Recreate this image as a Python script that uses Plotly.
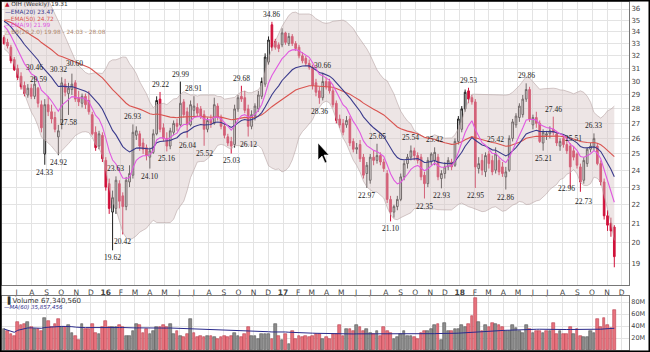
import plotly.graph_objects as go
import pandas as pd
import numpy as np

start_date = "2015-06-05"

ohlc = [
(33.5,33.7,32.9,33.0),(33.1,33.4,32.6,32.8),(32.7,32.9,31.4,31.6),(31.7,31.9,30.8,30.9),(31.0,31.3,30.1,30.3),
(30.4,30.7,29.4,29.6),(29.7,30.0,28.9,29.1),(29.0,29.8,28.8,29.5),(29.5,29.8,28.7,28.9),(28.9,30.46,28.7,29.8),
(29.5,29.59,28.1,28.4),(28.3,28.6,26.4,26.7),(25.0,28.7,24.33,28.3),(28.3,28.9,27.5,27.8),(27.8,28.3,27.0,27.3),
(27.4,27.8,26.4,26.6),(26.1,26.9,24.92,26.5),(27.0,30.32,26.6,29.9),(29.8,30.2,28.9,29.2),(29.1,29.9,27.58,29.5),
(29.4,30.60,29.0,29.8),(29.9,30.1,28.5,28.7),(28.8,29.3,28.2,28.5),(28.4,29.1,28.1,28.9),(28.9,29.1,28.0,28.3),
(28.6,29.3,27.6,27.8),(27.6,27.8,26.2,26.3),(26.4,26.8,25.2,25.4),(25.5,26.5,25.3,26.3),(26.2,26.4,24.5,24.7),
(24.6,24.8,22.8,23.0),(23.2,23.5,21.5,21.8),(21.6,22.8,19.62,22.4),(21.8,23.63,21.5,23.4),(23.2,23.4,21.8,22.2),
(22.5,22.7,20.42,21.9),(21.9,23.6,21.7,23.4),(23.3,24.3,23.0,23.8),(23.7,26.93,23.5,26.4),(26.2,26.8,25.9,26.5),
(26.3,26.5,25.2,25.5),(25.7,26.0,25.0,25.3),(25.4,25.6,24.6,24.9),(24.8,25.4,24.10,25.2),(25.1,26.6,25.0,26.3),
(26.3,28.9,26.2,28.6),(28.7,29.22,26.4,26.6),(26.7,27.0,25.8,26.0),(26.0,26.4,25.16,25.5),(25.5,26.7,25.3,26.5),
(26.4,27.2,26.2,27.0),(27.0,27.3,26.5,26.8),(26.9,29.99,26.8,28.4),(28.5,28.7,27.4,27.6),(27.8,28.1,26.04,26.9),
(26.9,28.6,26.8,28.3),(27.9,28.91,27.5,28.2),(28.1,28.4,27.5,27.7),(28.0,28.2,27.3,27.5),(27.6,27.9,25.52,26.6),
(26.6,27.4,26.4,27.2),(27.2,27.6,26.7,27.0),(27.0,28.8,26.9,28.3),(28.2,28.4,27.2,27.4),(27.4,27.6,26.6,26.8),
(26.8,27.0,26.0,26.2),(26.1,26.3,25.5,25.7),(25.8,26.1,25.03,25.5),(25.6,28.3,25.4,28.0),(28.0,29.0,27.8,28.8),
(28.9,29.68,28.5,28.7),(28.8,29.3,27.7,27.9),(28.0,28.3,26.12,26.8),(26.8,27.9,26.6,27.6),(27.5,28.4,27.2,28.2),
(28.0,29.3,27.8,29.0),(28.9,30.3,28.7,30.0),(29.8,32.2,29.6,31.9),(31.5,33.6,31.3,33.3),(34.6,34.86,32.4,32.7),
(33.2,33.4,32.5,32.7),(32.9,33.1,32.3,32.6),(32.9,34.3,32.7,33.9),(33.9,34.0,32.9,33.1),(33.0,33.9,32.8,33.6),
(33.6,33.8,32.8,33.0),(33.0,33.2,32.4,32.6),(32.7,32.9,31.8,32.0),(32.0,32.3,31.4,31.6),(31.8,32.0,31.2,31.4),
(31.4,31.7,30.9,31.1),(31.1,31.3,29.4,29.7),(29.9,30.2,28.9,29.2),(29.3,29.6,28.36,28.8),(28.8,30.66,28.6,30.0),
(30.0,30.3,29.4,29.6),(30.0,30.2,29.1,29.3),(29.3,29.5,28.1,28.3),(28.4,28.6,27.0,27.2),(27.3,27.6,26.7,26.9),
(27.0,27.3,26.2,26.4),(26.9,27.5,26.7,27.2),(27.3,27.5,25.5,25.7),(25.8,26.0,25.1,25.3),(25.3,25.7,25.0,25.4),
(25.6,25.9,24.5,24.7),(24.8,25.0,23.5,23.7),(23.8,24.5,22.97,24.3),(23.4,25.0,23.2,24.8),(24.8,25.2,24.3,24.6),
(24.6,25.65,24.4,24.9),(24.9,25.1,24.3,24.5),(24.5,24.7,23.9,24.1),(23.8,24.0,22.1,22.3),(22.3,22.5,21.10,21.6),
(21.6,22.0,21.3,21.9),(21.9,22.5,21.7,22.3),(22.3,23.8,22.2,23.6),(23.6,24.6,23.4,24.4),(24.4,25.0,24.1,24.8),
(24.8,25.54,24.6,25.2),(25.2,25.4,24.6,24.9),(24.9,25.1,24.4,24.6),(24.8,25.0,23.4,23.6),(23.7,23.9,22.35,23.2),
(23.2,24.8,23.0,24.6),(24.5,25.1,24.3,25.0),(24.6,25.42,24.3,25.1),(24.8,25.0,23.4,23.6),(23.5,24.0,22.93,23.8),
(23.8,24.5,23.5,24.2),(24.2,24.8,24.0,24.6),(24.5,24.7,24.0,24.2),(24.3,26.0,24.2,25.8),(25.8,27.5,25.6,27.3),
(26.6,28.2,26.4,28.0),(28.0,29.4,27.8,29.2),(29.3,29.53,28.4,28.7),(28.8,29.0,28.3,28.5),(28.5,28.7,22.95,24.2),
(24.1,24.8,23.8,24.4),(24.6,25.0,23.7,24.0),(23.9,25.1,23.6,24.9),(25.0,25.2,24.1,24.4),(24.6,24.9,23.7,23.9),
(24.0,25.42,23.8,25.0),(24.6,24.8,23.7,23.9),(24.2,24.5,23.6,23.8),(23.6,24.2,22.86,23.9),(24.0,26.2,23.9,26.0),
(26.0,27.3,25.8,27.1),(26.9,27.7,26.7,27.5),(27.4,28.4,27.1,28.2),(27.6,29.0,27.4,28.7),(28.7,29.86,28.5,29.4),
(29.4,29.6,27.1,27.3),(26.9,27.6,26.6,27.4),(27.4,27.8,26.7,27.0),(27.0,27.2,25.7,25.8),(25.7,26.6,25.21,26.4),
(26.2,26.5,25.9,26.3),(26.3,26.8,26.0,26.5),(26.6,27.46,26.2,26.4),(26.3,26.5,25.5,25.7),(25.5,26.0,25.2,25.8),
(26.0,26.2,25.4,25.6),(25.6,25.9,25.0,25.2),(25.5,25.7,22.96,24.2),(25.2,25.51,24.6,24.8),(25.0,25.1,24.1,24.3),
(24.2,24.4,22.73,23.3),(23.4,24.8,23.2,24.6),(24.4,25.4,24.2,25.3),(25.3,25.7,25.1,25.5),(25.4,26.33,25.2,26.0),
(25.5,25.7,24.3,24.4),(24.4,24.6,23.1,23.3),(23.3,23.5,21.2,21.4),(21.4,21.7,20.6,20.9),(21.0,21.3,20.3,20.6),
(20.8,20.9,18.8,19.31),
]
opens = [r[0] for r in ohlc]
highs = [r[1] for r in ohlc]
lows = [r[2] for r in ohlc]
closes = [r[3] for r in ohlc]

volumes_m = [
35,32,27,24,46,41,43,46,38,35,35,32,54,49,38,43,52,38,38,41,
29,24,16,43,35,35,43,29,27,38,49,38,38,38,41,38,24,24,32,43,
41,29,35,27,32,38,38,41,38,43,27,32,24,21,27,51,29,21,24,21,
24,24,21,18,21,24,21,24,29,24,21,27,38,24,24,18,27,27,27,18,
43,24,16,27,10,32,18,24,21,24,21,24,27,27,18,
21,18,27,27,42,24,35,35,32,42,38,32,35,29,27,32,24,38,32,29,
18,21,27,32,24,24,21,18,29,32,32,35,41,43,16,45,32,32,35,35,
41,38,43,57,86,46,32,41,38,45,43,41,38,32,32,41,36,32,29,41,
35,29,32,32,29,32,31,45,27,32,27,27,38,27,35,24,21,21,32,29,
52,38,54,42,36,67.34,
]

prior_closes = [35.0,34.2,33.0,34.5,35.8,36.2,35.5,34.8,33.9,34.6,
                35.9,36.8,37.4,36.9,36.2,35.6,35.0,34.4,34.0,33.6]

labels = [
(9,30.46,1),(10,29.59,1),(12,24.33,0),(16,24.92,0),(17,30.32,1),(19,27.58,0),(20,30.60,1),
(33,23.63,1),(32,19.62,0),(35,20.42,0),(38,26.93,1),(43,24.10,0),(46,29.22,1),(48,25.16,0),
(52,29.99,1),(54,26.04,0),(56,28.91,1),(59,25.52,0),(67,25.03,0),(70,29.68,1),(72,26.12,0),
(79,34.86,1),(94,30.66,1),(93,28.36,0),(110,25.65,1),(107,22.97,0),(114,21.10,0),(120,25.54,1),
(124,22.35,0),(127,25.42,1),(129,22.93,0),(137,29.53,1),(139,22.95,0),(145,25.42,1),(148,22.86,0),
(154,29.86,1),(162,27.46,1),(159,25.21,0),(168,25.51,1),(167,22.96,0),(170,22.73,0),(174,26.33,1),
]
# pixel nudges for crowded labels (value -> (dx, dy))
label_nudge = {30.32: (-3, 0), 30.60: (3, 3), 22.96: (-4, 7), 22.73: (3, -2)}

month_letters = ["J","F","M","A","M","J","J","A","S","O","N","D"]
price_ticks = list(range(19, 37))
vol_ticks = [20, 40, 60, 80]

# ---------------------------------------------------------------
n = len(closes)
dates = pd.date_range(start_date, periods=n, freq="7D")
allc = pd.Series(prior_closes + closes)
np_ = len(prior_closes)
ema20 = allc.ewm(span=20, adjust=False).mean().values[np_:]
ema50 = allc.ewm(span=50, adjust=False).mean().values[np_:]
ema9 = allc.ewm(span=9, adjust=False).mean().values[np_:]
mid = allc.rolling(20).mean().values[np_:]
sd = allc.rolling(20).std(ddof=0).values[np_:]
bb_up = mid + 2 * sd
bb_lo = mid - 2 * sd

vol = np.array(volumes_m) * 1e6
vma = pd.Series(vol).rolling(60, min_periods=1).mean().values
prevc = [closes[0]] + closes[:-1]
vcol = ["#8c8c8c" if c >= p else "#e8727e" for c, p in zip(closes, prevc)]
vline = ["#555555" if c >= p else "#b8404e" for c, p in zip(closes, prevc)]

W, H = 650, 352
ML, MR, MT, MB = 2, 21, 2, 2
PW, PH = W - ML - MR, H - MT - MB
def px(x): return (x - ML) / PW
def py(y): return (H - MB - y) / PH

fig = go.Figure()
fig.add_trace(go.Scatter(x=dates, y=bb_up, mode="lines", line=dict(color="rgba(180,160,160,0.7)", width=0.8),
                         hoverinfo="skip", showlegend=False))
fig.add_trace(go.Scatter(x=dates, y=bb_lo, mode="lines", line=dict(color="rgba(180,160,160,0.7)", width=0.8),
                         fill="tonexty", fillcolor="rgba(214,198,198,0.45)", hoverinfo="skip", showlegend=False))
fig.add_trace(go.Scatter(x=dates, y=ema50, mode="lines", line=dict(color="#d9534f", width=1.1), showlegend=False))
fig.add_trace(go.Scatter(x=dates, y=ema20, mode="lines", line=dict(color="#3a3a8c", width=1.1), showlegend=False))
fig.add_trace(go.Scatter(x=dates, y=ema9, mode="lines", line=dict(color="#e05ae0", width=1.1), showlegend=False))
fig.add_trace(go.Candlestick(x=dates, open=opens, high=highs, low=lows, close=closes,
                             increasing=dict(line=dict(color="#1e1e1e", width=1), fillcolor="white"),
                             decreasing=dict(line=dict(color="#d0103a", width=1), fillcolor="#d0103a"),
                             whiskerwidth=0, showlegend=False))
fig.add_trace(go.Bar(x=dates, y=vol, marker=dict(color=vcol, line=dict(color=vline, width=0.6)),
                     width=7 * 24 * 3600 * 1000 * 0.8, xaxis="x2", yaxis="y2", showlegend=False))
fig.add_trace(go.Scatter(x=dates, y=vma, mode="lines", line=dict(color="#2b2b8c", width=1),
                         xaxis="x2", yaxis="y2", showlegend=False))

mticks = pd.date_range("2015-07-01", "2018-12-01", freq="MS")
mtext = []
for d in mticks:
    if d.month == 1:
        mtext.append("<b>%02d</b>" % (d.year % 100))
    else:
        mtext.append(month_letters[d.month - 1])

x0 = pd.Timestamp(start_date) - pd.Timedelta(days=(4.1 - ML) / (3.39 / 7))
x1 = pd.Timestamp(start_date) + pd.Timedelta(days=(W - MR - 4.1) / (3.39 / 7))

ann = []
for i, v, up in labels:
    dx, dy = label_nudge.get(v, (0, 0))
    ann.append(dict(x=dates[i], y=np.log10(v), xref="x", yref="y", text="%.2f" % v, showarrow=False,
                    yanchor="bottom" if up else "top", yshift=(1 if up else -1) + dy, xshift=dx,
                    font=dict(family="Liberation Serif", size=7.5, color="#222")))

leg = [
    ('<span style="color:#c01030">&#9650;</span> OIH (Weekly) 19.31', "#333", 5),
    ("\u2014EMA(20) 23.47", "#3a3a8c", 12),
    ("\u2014EMA(50) 24.72", "#d9534f", 19),
    ("\u2014EMA(9) 21.99", "#e05ae0", 25.5),
    ("\u25b3 BB(20,2.0) 19.98 - 24.03 - 28.08", "#b08a70", 32),
]
for t, c, y in leg:
    ann.append(dict(x=px(3), y=py(y), xref="paper", yref="paper", text=t, showarrow=False,
                    xanchor="left", yanchor="middle", font=dict(family="DejaVu Sans", size=5.8, color=c)))
ann.append(dict(x=px(3), y=py(300), xref="paper", yref="paper", text="<b>\u2590</b> Volume 67,340,560",
                showarrow=False, xanchor="left", yanchor="middle", font=dict(family="DejaVu Sans", size=7, color="#333")))
ann.append(dict(x=px(2), y=py(307), xref="paper", yref="paper", text="\u2014<i>MA(60) 35,857,456</i>",
                showarrow=False, xanchor="left", yanchor="middle", font=dict(family="DejaVu Sans", size=5.5, color="#2b2b8c")))

shapes = [
    dict(type="line", xref="paper", yref="y", x0=0, x1=1, y0=np.log10(19.62), y1=np.log10(19.62),
         line=dict(color="#1010c0", width=1.6), layer="above"),
    dict(type="line", xref="x", yref="y", x0=dates[125] + pd.Timedelta(days=4), x1=x1,
         y0=np.log10(22.93), y1=np.log10(22.93), line=dict(color="#1010c0", width=1.6), layer="above"),
    dict(type="path", xref="paper", yref="paper", xsizemode="pixel", ysizemode="pixel",
         xanchor=px(318), yanchor=py(143),
         path="M0,0 L0,-17 L4,-13 L7,-20 L9,-19 L6,-12 L11,-12 Z",
         fillcolor="black", line=dict(color="white", width=0.6), layer="above"),
    dict(type="rect", xref="paper", yref="paper", x0=px(0.5), x1=px(W - 0.5), y0=py(H - 0.5), y1=py(0.5),
         line=dict(color="black", width=2), layer="above"),
]

top_p, bot_p = 285, 296
fig.update_layout(
    width=W, height=H, margin=dict(l=ML, r=MR, t=MT, b=MB),
    paper_bgcolor="white", plot_bgcolor="white", showlegend=False,
    xaxis=dict(type="date", range=[x0, x1], domain=[0, 1], anchor="y", rangeslider=dict(visible=False),
               tickvals=mticks, ticktext=mtext, ticks="", showgrid=True, gridcolor="#e3e3e3", gridwidth=1,
               tickfont=dict(family="DejaVu Sans", size=7.5, color="#444"), showline=True, linecolor="#777",
               mirror=True, zeroline=False),
    yaxis=dict(type="log", range=[np.log10(17.98), np.log10(36.64)], domain=[py(top_p), 1], side="right",
               tickvals=price_ticks, ticktext=[str(t) for t in price_ticks], showgrid=True, gridcolor="#e3e3e3",
               tickfont=dict(family="DejaVu Sans", size=7, color="#444"), ticks="", showline=True,
               linecolor="#777", mirror=True, zeroline=False),
    xaxis2=dict(type="date", range=[x0, x1], anchor="y2", matches="x", showticklabels=False,
                tickvals=mticks, showgrid=True, gridcolor="#e3e3e3", ticks="", showline=True,
                linecolor="#777", mirror=True, rangeslider=dict(visible=False)),
    yaxis2=dict(range=[0, 90e6], domain=[0, py(bot_p)], side="right", tickvals=[v * 1e6 for v in vol_ticks],
                ticktext=["%dM" % v for v in vol_ticks], showgrid=True, gridcolor="#e3e3e3",
                tickfont=dict(family="DejaVu Sans", size=6.5, color="#444"), ticks="", showline=True,
                linecolor="#777", mirror=True, zeroline=False),
    annotations=ann, shapes=shapes, bargap=0,
)
fig.write_html("out.html")
